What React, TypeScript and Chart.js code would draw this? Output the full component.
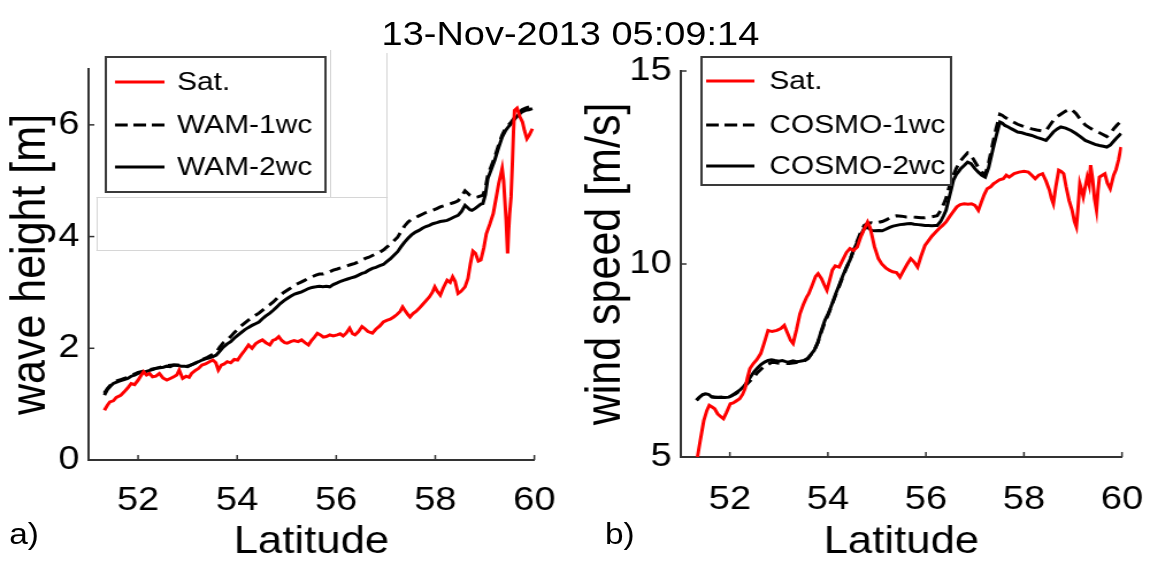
import React, { useEffect, useRef } from "react";
import { Chart, registerables } from "chart.js";
Chart.register(...registerables);

// ---------------- data ----------------
const titleText = "13-Nov-2013 05:09:14";
const xTicks = [52, 54, 56, 58, 60];
const waveTicks = [0, 2, 4, 6];
const windTicks = [5, 10, 15];

// panel a) wave height
const satLatA = [51.32,51.38,51.43,51.5,51.56,51.65,51.72,51.8,51.86,51.93,52.0,52.05,52.11,52.17,52.23,52.29,52.36,52.43,52.5,52.58,52.65,52.72,52.78,52.83,52.9,52.97,53.03,53.08,53.15,53.22,53.29,53.36,53.44,53.51,53.57,53.62,53.68,53.74,53.8,53.87,53.94,54.01,54.08,54.15,54.23,54.3,54.37,54.44,54.51,54.58,54.66,54.72,54.78,54.84,54.9,54.96,55.01,55.08,55.15,55.23,55.3,55.37,55.44,55.5,55.56,55.62,55.68,55.74,55.8,55.87,55.94,56.02,56.08,56.14,56.2,56.27,56.33,56.38,56.45,56.52,56.58,56.64,56.73,56.8,56.88,56.95,57.02,57.09,57.16,57.22,57.29,57.34,57.4,57.45,57.49,57.55,57.61,57.67,57.74,57.81,57.88,57.94,57.99,58.04,58.1,58.16,58.24,58.3,58.35,58.4,58.46,58.52,58.6,58.66,58.71,58.76,58.81,58.87,58.92,58.98,59.03,59.1,59.17,59.23,59.28,59.32,59.35,59.38,59.4,59.43,59.46,59.48,59.5,59.53,59.56,59.58,59.6,59.65,59.71,59.76,59.8,59.85,59.9,59.96];
const satHs = [0.89,0.98,1.04,1.06,1.12,1.16,1.22,1.3,1.37,1.35,1.43,1.5,1.58,1.52,1.55,1.49,1.5,1.55,1.47,1.43,1.46,1.49,1.52,1.61,1.46,1.5,1.48,1.55,1.6,1.64,1.7,1.72,1.76,1.79,1.74,1.61,1.7,1.72,1.76,1.74,1.8,1.79,1.88,1.96,2.06,2.0,2.08,2.12,2.15,2.1,2.06,2.14,2.16,2.21,2.14,2.1,2.09,2.12,2.14,2.12,2.15,2.1,2.06,2.14,2.2,2.27,2.24,2.2,2.21,2.24,2.22,2.24,2.26,2.22,2.27,2.36,2.26,2.24,2.3,2.39,2.35,2.3,2.27,2.34,2.4,2.47,2.5,2.52,2.56,2.6,2.66,2.74,2.66,2.6,2.56,2.62,2.66,2.71,2.78,2.85,2.92,3.0,3.1,3.02,2.95,3.08,3.22,3.18,3.28,3.2,2.98,3.02,3.1,3.25,3.52,3.74,3.7,3.56,3.58,3.8,4.05,4.22,4.41,4.7,4.95,5.1,5.22,5.0,4.71,4.3,3.7,4.1,4.4,4.71,5.4,5.9,6.26,6.3,6.14,6.05,5.9,5.75,5.82,5.93];

const wam2Lat = [51.32,51.38,51.44,51.5,51.58,51.65,51.72,51.79,51.86,51.93,52.0,52.08,52.15,52.22,52.29,52.36,52.44,52.51,52.58,52.65,52.72,52.8,52.87,52.94,53.0,53.07,53.14,53.22,53.29,53.36,53.44,53.51,53.58,53.65,53.72,53.8,53.87,53.94,54.01,54.08,54.15,54.22,54.3,54.37,54.44,54.51,54.58,54.66,54.73,54.8,54.87,54.94,55.01,55.08,55.16,55.23,55.3,55.37,55.44,55.51,55.59,55.66,55.73,55.8,55.87,55.94,56.02,56.09,56.16,56.23,56.3,56.38,56.45,56.52,56.59,56.66,56.73,56.8,56.88,56.95,57.02,57.09,57.16,57.24,57.31,57.38,57.45,57.52,57.6,57.67,57.74,57.81,57.88,57.95,58.03,58.1,58.17,58.24,58.31,58.38,58.46,58.53,58.6,58.65,58.7,58.74,58.8,58.86,58.92,58.96,59.01,59.06,59.13,59.2,59.27,59.35,59.42,59.48,59.53,59.6,59.67,59.75,59.82,59.89,59.96];
const wam2Hs = [1.16,1.26,1.32,1.37,1.4,1.42,1.44,1.46,1.5,1.52,1.55,1.57,1.58,1.6,1.62,1.64,1.65,1.66,1.68,1.67,1.7,1.69,1.68,1.68,1.67,1.7,1.73,1.76,1.79,1.81,1.83,1.85,1.88,1.95,2.02,2.08,2.12,2.18,2.23,2.28,2.33,2.37,2.41,2.44,2.47,2.53,2.58,2.63,2.68,2.74,2.8,2.85,2.89,2.93,2.97,2.99,3.01,3.04,3.07,3.09,3.1,3.11,3.1,3.11,3.1,3.14,3.17,3.2,3.22,3.24,3.26,3.28,3.31,3.34,3.36,3.4,3.43,3.45,3.48,3.5,3.55,3.6,3.66,3.73,3.82,3.9,3.97,4.03,4.08,4.11,4.15,4.18,4.2,4.23,4.25,4.27,4.28,4.29,4.32,4.35,4.38,4.45,4.56,4.52,4.48,4.47,4.5,4.54,4.58,4.59,4.75,5.04,5.2,5.37,5.57,5.78,5.9,5.97,6.02,6.1,6.17,6.23,6.26,6.27,6.29];

const wam1Lat = [51.32,51.38,51.44,51.5,51.58,51.65,51.72,51.79,51.86,51.93,52.0,52.1,52.2,52.3,52.4,52.5,52.6,52.7,52.8,52.9,53.0,53.1,53.2,53.3,53.4,53.5,53.58,53.65,53.72,53.8,53.87,53.94,54.01,54.08,54.15,54.22,54.3,54.37,54.44,54.51,54.58,54.66,54.73,54.8,54.87,54.94,55.01,55.08,55.16,55.23,55.3,55.37,55.44,55.51,55.59,55.66,55.73,55.8,55.87,55.94,56.02,56.09,56.16,56.23,56.3,56.38,56.45,56.52,56.59,56.66,56.73,56.8,56.88,56.95,57.02,57.09,57.16,57.24,57.31,57.38,57.45,57.52,57.6,57.67,57.74,57.81,57.88,57.95,58.03,58.1,58.17,58.24,58.31,58.38,58.46,58.53,58.6,58.65,58.7,58.74,58.8,58.86,58.92,58.96,59.01,59.06,59.13,59.2,59.27,59.35,59.42,59.48,59.53,59.6,59.67,59.75,59.82,59.89,59.96];
const wam1Hs = [1.2,1.28,1.34,1.39,1.42,1.44,1.46,1.48,1.52,1.54,1.57,1.59,1.61,1.63,1.65,1.67,1.69,1.7,1.7,1.69,1.68,1.71,1.75,1.8,1.84,1.89,1.93,2.02,2.1,2.15,2.21,2.28,2.34,2.4,2.45,2.5,2.55,2.59,2.63,2.68,2.73,2.78,2.83,2.89,2.95,3.0,3.04,3.08,3.13,3.16,3.19,3.22,3.26,3.28,3.31,3.33,3.33,3.35,3.37,3.4,3.42,3.44,3.46,3.48,3.5,3.52,3.55,3.58,3.61,3.63,3.66,3.69,3.72,3.76,3.81,3.86,3.92,3.99,4.09,4.19,4.26,4.31,4.34,4.37,4.4,4.43,4.45,4.47,4.5,4.53,4.55,4.57,4.59,4.61,4.64,4.72,4.82,4.78,4.74,4.72,4.7,4.71,4.73,4.74,4.86,5.1,5.26,5.42,5.62,5.82,5.94,6.0,6.05,6.13,6.2,6.27,6.3,6.32,6.34];

// panel b) wind speed
const satLatB = [51.34,51.4,51.47,51.53,51.58,51.63,51.69,51.75,51.81,51.87,51.93,52.01,52.07,52.13,52.2,52.26,52.31,52.36,52.41,52.48,52.55,52.63,52.7,52.78,52.86,52.96,53.04,53.11,53.18,53.24,53.29,53.36,53.43,53.5,53.57,53.61,53.68,53.75,53.8,53.87,53.93,53.98,54.04,54.09,54.15,54.23,54.3,54.38,54.45,54.52,54.6,54.67,54.74,54.81,54.86,54.89,54.95,55.03,55.1,55.18,55.25,55.32,55.4,55.47,55.54,55.62,55.69,55.76,55.83,55.9,55.98,56.05,56.12,56.2,56.27,56.34,56.41,56.48,56.56,56.63,56.7,56.78,56.86,56.93,57.0,57.07,57.13,57.19,57.25,57.32,57.38,57.43,57.5,57.58,57.64,57.7,57.8,57.9,58.0,58.09,58.16,58.23,58.3,58.38,58.45,58.52,58.56,58.6,58.65,58.71,58.76,58.81,58.86,58.92,58.98,59.03,59.07,59.1,59.14,59.18,59.21,59.25,59.29,59.33,59.36,59.4,59.44,59.48,59.51,59.54,59.6,59.65,59.7,59.76,59.8,59.83,59.88,59.93,59.98];
const satWs = [5.0,5.45,5.95,6.2,6.34,6.3,6.25,6.12,6.05,5.99,6.15,6.38,6.4,6.45,6.51,6.62,6.77,7.05,7.29,7.42,7.52,7.68,7.95,8.28,8.25,8.28,8.33,8.41,8.2,8.02,7.94,8.3,8.71,8.95,9.15,9.23,9.45,9.68,9.75,9.62,9.45,9.32,9.6,9.84,9.95,9.92,10.1,10.3,10.4,10.35,10.44,10.7,10.9,11.09,10.95,10.79,10.45,10.14,10.0,9.9,9.84,9.8,9.78,9.66,9.82,10.0,10.14,10.05,9.92,10.2,10.48,10.6,10.72,10.83,10.92,11.0,11.09,11.22,11.36,11.48,11.54,11.56,11.55,11.56,11.52,11.39,11.6,11.8,11.95,12.0,12.08,12.12,12.18,12.21,12.3,12.25,12.34,12.38,12.4,12.38,12.3,12.21,12.3,12.34,12.15,11.91,11.7,11.56,12.0,12.43,12.4,12.34,12.0,11.65,11.4,11.1,10.96,11.4,12.08,11.9,11.74,12.0,12.25,12.05,12.56,12.2,11.69,11.39,11.9,12.25,12.3,12.34,12.1,11.95,12.15,12.3,12.45,12.7,13.03];

const cos2Lat = [51.32,51.38,51.45,51.51,51.57,51.63,51.69,51.76,51.83,51.9,51.98,52.05,52.12,52.2,52.27,52.34,52.42,52.49,52.56,52.64,52.71,52.78,52.85,52.92,53.0,53.07,53.14,53.21,53.29,53.36,53.43,53.51,53.58,53.65,53.72,53.79,53.86,53.94,54.01,54.08,54.16,54.23,54.3,54.38,54.45,54.52,54.6,54.67,54.74,54.81,54.89,54.96,55.04,55.11,55.18,55.26,55.33,55.4,55.47,55.55,55.62,55.69,55.76,55.84,55.91,55.98,56.05,56.12,56.19,56.23,56.3,56.36,56.41,56.47,56.52,56.56,56.62,56.67,56.71,56.78,56.85,56.92,57.0,57.07,57.14,57.21,57.28,57.36,57.43,57.51,57.56,57.61,57.68,57.75,57.87,57.96,58.06,58.16,58.26,58.36,58.45,58.52,58.6,58.68,58.75,58.85,58.96,59.06,59.15,59.25,59.35,59.45,59.54,59.62,59.69,59.76,59.83,59.9,59.98];
const cos2Ws = [6.47,6.55,6.62,6.64,6.62,6.56,6.55,6.54,6.55,6.54,6.55,6.6,6.66,6.73,6.81,6.92,7.07,7.2,7.3,7.4,7.46,7.5,7.52,7.5,7.48,7.5,7.47,7.46,7.49,7.47,7.48,7.5,7.55,7.65,7.76,7.95,8.25,8.54,8.72,8.95,9.23,9.45,9.68,9.92,10.1,10.35,10.57,10.75,10.92,10.95,10.87,10.86,10.87,10.86,10.9,10.95,10.98,11.0,11.02,11.03,11.04,11.05,11.03,11.02,11.01,11.0,11.0,10.99,11.0,11.0,11.1,11.25,11.39,11.7,11.95,12.17,12.32,12.4,12.47,12.55,12.64,12.6,12.47,12.38,12.3,12.25,12.5,12.94,13.3,13.68,13.65,13.59,13.55,13.5,13.42,13.4,13.36,13.33,13.28,13.24,13.2,13.3,13.42,13.5,13.55,13.52,13.46,13.38,13.3,13.2,13.15,13.1,13.07,13.05,13.03,13.08,13.18,13.28,13.38];

const cos1Lat = [51.32,51.38,51.45,51.51,51.57,51.63,51.69,51.83,51.98,52.12,52.27,52.36,52.42,52.49,52.56,52.64,52.71,52.78,52.85,52.92,53.0,53.1,53.21,53.36,53.51,53.6,53.72,53.8,53.87,53.94,54.01,54.08,54.16,54.23,54.3,54.38,54.45,54.52,54.6,54.67,54.74,54.81,54.89,54.96,55.04,55.11,55.2,55.3,55.4,55.5,55.6,55.69,55.8,55.9,55.98,56.1,56.23,56.3,56.36,56.41,56.47,56.52,56.56,56.62,56.67,56.71,56.78,56.85,56.92,57.0,57.07,57.14,57.21,57.28,57.36,57.43,57.51,57.56,57.61,57.68,57.75,57.87,57.96,58.06,58.16,58.26,58.36,58.45,58.52,58.6,58.68,58.75,58.85,58.96,59.06,59.15,59.25,59.35,59.45,59.54,59.62,59.69,59.76,59.83,59.9,59.98];
const cos1Ws = [6.47,6.55,6.62,6.64,6.62,6.56,6.55,6.55,6.55,6.64,6.78,6.9,6.98,7.07,7.18,7.28,7.35,7.4,7.45,7.45,7.43,7.42,7.42,7.45,7.48,7.55,7.76,7.98,8.25,8.5,8.7,8.93,9.2,9.42,9.65,9.9,10.1,10.35,10.6,10.82,11.0,11.05,11.07,11.05,11.08,11.1,11.15,11.22,11.25,11.24,11.22,11.22,11.21,11.2,11.2,11.22,11.25,11.38,11.55,11.7,11.98,12.15,12.3,12.48,12.6,12.68,12.78,12.88,12.82,12.65,12.5,12.38,12.32,12.62,13.1,13.5,13.88,13.85,13.8,13.75,13.7,13.62,13.58,13.54,13.5,13.47,13.45,13.45,13.58,13.72,13.82,13.88,13.96,14.02,13.9,13.75,13.6,13.52,13.45,13.4,13.35,13.3,13.38,13.5,13.6,13.7];

// ---------------- layout ----------------
const S = 1.15; // horizontal stretch of the original figure
const BASE_W = 1170 / S;
const H = 562;
const FAM = "'Liberation Sans', Arial, Helvetica, sans-serif";

const inTicks = {
  id: "inTicks",
  afterDatasetsDraw(chart: any) {
    const { ctx, chartArea, scales } = chart;
    const x = scales.x, y = scales.y;
    ctx.save();
    ctx.strokeStyle = "#333";
    ctx.lineWidth = 1.5;
    x.ticks.forEach((t: any) => {
      const px = x.getPixelForValue(t.value);
      ctx.beginPath();
      ctx.moveTo(px, chartArea.bottom);
      ctx.lineTo(px, chartArea.bottom - 5);
      ctx.stroke();
    });
    y.ticks.forEach((t: any) => {
      const py = y.getPixelForValue(t.value);
      ctx.beginPath();
      ctx.moveTo(chartArea.left, py);
      ctx.lineTo(chartArea.left + 5, py);
      ctx.stroke();
    });
    ctx.restore();
  },
};

const boxLegend = {
  id: "boxLegend",
  afterDraw(chart: any, _a: any, o: any) {
    if (!o || !o.show) return;
    const { ctx } = chart;
    ctx.save();
    ctx.fillStyle = "#fff";
    ctx.fillRect(o.x, o.y, o.w, o.h);
    ctx.strokeStyle = "#3a3a3a";
    ctx.lineWidth = 2;
    ctx.strokeRect(o.x, o.y, o.w, o.h);
    chart.data.datasets.forEach((ds: any, i: number) => {
      const ry = o.rows[i];
      ctx.beginPath();
      ctx.setLineDash(ds.borderDash && ds.borderDash.length ? o.dash : []);
      ctx.strokeStyle = ds.borderColor;
      ctx.lineWidth = 3;
      ctx.moveTo(o.lineX0, ry);
      ctx.lineTo(o.lineX1, ry);
      ctx.stroke();
      ctx.setLineDash([]);
      ctx.fillStyle = "#000";
      ctx.font = `${o.fontSize}px ${FAM}`;
      ctx.textBaseline = "middle";
      ctx.textAlign = "left";
      ctx.fillText(ds.label, o.textX, ry + 1);
    });
    ctx.restore();
  },
};

function pts(lat: number[], val: number[]) {
  return lat.map((v, i) => ({ x: v, y: val[i] }));
}

type Spec = {
  left: number;
  w: number;
  padTop: number;
  padRight: number;
  yWidth: number;
  xHeight: number;
  yMin: number;
  yMax: number;
  yTicks: number[];
  yTitle: string;
  yTitlePad: number;
  xTickPad: number;
  yTickPad: number;
  series: { label: string; lat: number[]; val: number[]; color: string; dash: number[] }[];
  legend: any;
};

function Panel({ spec }: { spec: Spec }) {
  const ref = useRef<HTMLCanvasElement | null>(null);
  useEffect(() => {
    if (!ref.current) return;
    const chart = new Chart(ref.current, {
      type: "line",
      data: {
        datasets: spec.series.map((s) => ({
          label: s.label,
          data: pts(s.lat, s.val),
          borderColor: s.color,
          backgroundColor: s.color,
          borderWidth: 3,
          borderDash: s.dash,
          pointRadius: 0,
          tension: 0,
          fill: false,
        })),
      },
      options: {
        responsive: false,
        devicePixelRatio: 1,
        animation: false,
        parsing: false as any,
        layout: { padding: { top: spec.padTop, right: spec.padRight, left: 0, bottom: 0 } },
        plugins: {
          legend: { display: false },
          tooltip: { enabled: false },
          boxLegend: spec.legend,
        } as any,
        scales: {
          x: {
            type: "linear",
            min: 51,
            max: 60,
            grid: { display: false, drawTicks: false },
            border: { display: true, color: "#333", width: 2 },
            afterBuildTicks: (ax: any) => {
              ax.ticks = xTicks.map((v) => ({ value: v }));
            },
            afterFit: (ax: any) => {
              ax.height = spec.xHeight;
            },
            ticks: {
              color: "#000",
              padding: spec.xTickPad,
              maxRotation: 0,
              autoSkip: false,
              font: { family: FAM, size: 33 },
            },
            title: {
              display: true,
              text: "Latitude",
              color: "#000",
              font: { family: FAM, size: 38, lineHeight: 1 },
              padding: { top: 1, bottom: 0 },
            },
          },
          y: {
            type: "linear",
            min: spec.yMin,
            max: spec.yMax,
            grid: { display: false, drawTicks: false },
            border: { display: true, color: "#333", width: 2 },
            afterBuildTicks: (ax: any) => {
              ax.ticks = spec.yTicks.map((v) => ({ value: v }));
            },
            afterFit: (ax: any) => {
              ax.width = spec.yWidth;
            },
            ticks: {
              color: "#000",
              padding: spec.yTickPad,
              autoSkip: false,
              font: { family: FAM, size: 33 },
            },
            title: {
              display: true,
              text: spec.yTitle,
              color: "#000",
              font: { family: FAM, size: 43, lineHeight: 1 },
              padding: { top: spec.yTitlePad, bottom: 0 },
            },
          },
        },
      },
      plugins: [inTicks, boxLegend],
    } as any);
    return () => chart.destroy();
  }, [spec]);
  return (
    <canvas
      ref={ref}
      width={spec.w}
      height={H}
      style={{ position: "absolute", left: spec.left, top: 0, display: "block" }}
    />
  );
}

const specA: Spec = {
  left: 0,
  w: 504,
  padTop: 69,
  padRight: 23,
  yWidth: 77,
  xHeight: 102,
  yMin: 0,
  yMax: 7,
  yTicks: waveTicks,
  yTitle: "wave height [m]",
  yTitlePad: 6,
  xTickPad: 21,
  yTickPad: 8,
  series: [
    { label: "Sat.", lat: satLatA, val: satHs, color: "#ff0000", dash: [] },
    { label: "WAM-1wc", lat: wam1Lat, val: wam1Hs, color: "#000000", dash: [10, 6] },
    { label: "WAM-2wc", lat: wam2Lat, val: wam2Hs, color: "#000000", dash: [] },
  ],
  legend: {
    show: true,
    x: 92,
    y: 57,
    w: 191,
    h: 135,
    lineX0: 100,
    lineX1: 143,
    textX: 154,
    rows: [82, 125, 167],
    dash: [11, 5],
    fontSize: 26,
  },
};

const specB: Spec = {
  left: 504,
  w: 513,
  padTop: 71,
  padRight: 21,
  yWidth: 88,
  xHeight: 105,
  yMin: 5,
  yMax: 15,
  yTicks: windTicks,
  yTitle: "wind speed [m/s]",
  yTitlePad: 2,
  xTickPad: 23,
  yTickPad: 8,
  series: [
    { label: "Sat.", lat: satLatB, val: satWs, color: "#ff0000", dash: [] },
    { label: "COSMO-1wc", lat: cos1Lat, val: cos1Ws, color: "#000000", dash: [10, 6] },
    { label: "COSMO-2wc", lat: cos2Lat, val: cos2Ws, color: "#000000", dash: [] },
  ],
  legend: {
    show: true,
    x: 106,
    y: 57,
    w: 217,
    h: 128,
    lineX0: 110,
    lineX1: 152,
    textX: 165,
    rows: [81, 125, 166],
    dash: [11, 5],
    fontSize: 26,
  },
};

const faint = "1px solid #d6d6d6";

export default function App() {
  return (
    <div
      style={{
        position: "absolute",
        left: 0,
        top: 0,
        width: BASE_W,
        height: H,
        transform: `scaleX(${S})`,
        transformOrigin: "0 0",
        background: "#fff",
        fontFamily: FAM,
      }}
    >
      {/* faint frame artefacts of the original figure */}
      <div style={{ position: "absolute", left: 84, top: 197, width: 252, height: 52, borderTop: faint, borderLeft: faint, borderBottom: faint }} />
      <div style={{ position: "absolute", left: 336, top: 53, width: 0, height: 196, borderLeft: faint }} />
      <div style={{ position: "absolute", left: 287, top: 50, width: 0, height: 147, borderLeft: faint }} />
      <Panel spec={specA} />
      <Panel spec={specB} />
      <div
        style={{
          position: "absolute",
          left: 496 - 260,
          width: 520,
          top: 17,
          textAlign: "center",
          fontSize: 33,
          lineHeight: "33px",
          color: "#000",
          whiteSpace: "nowrap",
        }}
      >
        {titleText}
      </div>
      <div style={{ position: "absolute", left: 8, top: 520, fontSize: 29, lineHeight: "29px", color: "#000" }}>a)</div>
      <div style={{ position: "absolute", left: 526, top: 520, fontSize: 29, lineHeight: "29px", color: "#000" }}>b)</div>
    </div>
  );
}
